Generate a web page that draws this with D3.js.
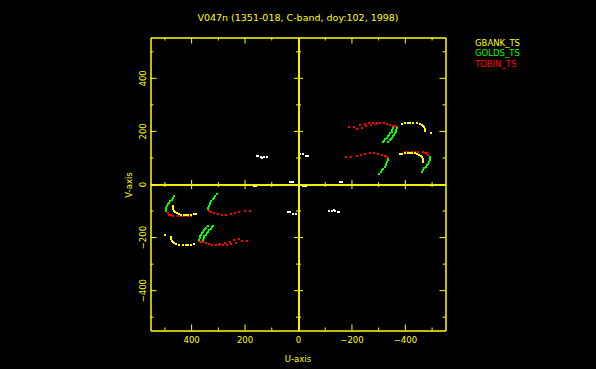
<!DOCTYPE html>
<html>
<head>
<meta charset="utf-8">
<script src="https://cdn.jsdelivr.net/npm/d3@7"></script>
<style>
    body { margin: 0; background: #000; }
    svg { display: block; }
    text { font-family: "DejaVu Sans", sans-serif; fill: #ffff00; }
    .axis path, .axis line { stroke: #ffff00; stroke-width: 1; }
    .axis text { font-size: 8.5px; fill: #ffff00; }
</style>
</head>
<body>
<div id="chart"></div>
<script>
// uv samples (u, v in kilo-lambda); each is also drawn at (-u, -v)
var gbankTop = [[-388,226],[-400,230],[-411,231],[-419,231],[-430,230],[-444,229],[-455,226],[-463,222],[-469,218],[-473,213],[-475,207],[-475,201],[-497,194]];
var gbankRight = [[-381,112],[-390,114],[-400,116],[-410,117],[-419,117],[-428,116],[-438,115],[-446,113],[-453,110],[-459,106],[-463,103],[-469,95],[-469,89],[-469,83]];

var goldsTopOuter = [[-369,210],[-368,204],[-366,197],[-363,191],[-360,185],[-357,180],[-353,175],[-349,170],[-344,166],[-338,158]];
var goldsTopInner = [[-356,210],[-353,203],[-350,197],[-346,191],[-341,185],[-337,179],[-332,173],[-326,168],[-321,163],[-317,158]];
var goldsMid = [[-335,95],[-335,89],[-334,83],[-331,76],[-328,70],[-324,63],[-319,57],[-315,51],[-310,45],[-304,38]];
var goldsRight = [[-494,103],[-494,97],[-494,91],[-491,83],[-488,76],[-483,70],[-478,64],[-473,59],[-469,54],[-463,47]];

var tdbinTop = [[-231,223],[-250,227],[-265,229],[-281,231],[-296,231],[-306,231],[-321,230],[-332,227],[-344,224],[-356,219],[-363,217],[-369,214]];
var tdbinTop2 = [[-191,214],[-211,215],[-221,207],[-240,212],[-256,217],[-275,221],[-291,225]];
var tdbinMid = [[-178,100],[-200,102],[-219,107],[-235,110],[-250,114],[-269,115],[-285,115],[-300,114],[-313,111],[-325,107],[-332,102]];
var tdbinRight = [[-400,120],[-412,121],[-425,122],[-438,122],[-450,122],[-469,120],[-476,118],[-482,116],[-488,110]];

var otherPts = [[152,107],[148,107],[140,102],[129,102],[117,102],[136,98],[-6,114],[-18,113],[-29,107],[-36,107],[31,6],[27,6],[20,6],[-156,6],[-164,8]];

var series = [
    { name: "GBANK_TS", color: "#ffff00", tracks: [gbankTop, gbankRight] },
    { name: "GOLDS_TS", color: "#00ff00", tracks: [goldsTopOuter, goldsTopInner, goldsMid, goldsRight] },
    { name: "TDBIN_TS", color: "#ff0000", tracks: [tdbinTop, tdbinTop2, tdbinMid, tdbinRight] }
];

var majorTicks = [-400, -200, 0, 200, 400];
var minorTicks = [-500, -300, -100, 100, 300, 500];

var width = 596, height = 369;
var margin = { top: 37.5, left: 150.5, right: 150.5, bottom: 38.5 };

var svg = d3.select("#chart")
    .append("svg")
    .attr("width", width)
    .attr("height", height);

svg.append("rect")
    .attr("width", width)
    .attr("height", height)
    .attr("fill", "#000");

var xScale = d3.scaleLinear()
    .domain([552, -552])
    .range([margin.left, width - margin.right]);

var yScale = d3.scaleLinear()
    .domain([552, -552])
    .range([margin.top, height - margin.bottom]);

/*
POINTS
*/
function drawPoints(pts, color) {
    var all = pts.concat(pts.map(function(d) { return [-d[0], -d[1]]; }));
    svg.append("g").selectAll("rect")
        .data(all)
        .enter()
        .append("rect")
        .attr("x", function(d) { return Math.round(xScale(d[0]) - 1); })
        .attr("y", function(d) { return Math.round(yScale(d[1]) - 1); })
        .attr("width", 2)
        .attr("height", 2)
        .attr("fill", color);
}

drawPoints(otherPts, "#ffffff");
series.slice().reverse().forEach(function(s) {
    s.tracks.forEach(function(t) { drawPoints(t, s.color); });
});

/*
BOX AXES
*/
var y0 = height - margin.bottom, x0 = margin.left;
var x1 = width - margin.right, yTop = margin.top;

svg.append("g").attr("class", "axis")
    .attr("transform", `translate(0,${y0})`)
    .call(d3.axisBottom(xScale).tickValues(majorTicks).tickSizeInner(-6).tickSizeOuter(0).tickPadding(6)
        .tickFormat(function(d) { return d === 0 ? "0" : d3.format("")(d).replace("-", "\u2212"); }));
svg.append("g").attr("class", "axis")
    .attr("transform", `translate(0,${y0})`)
    .call(d3.axisBottom(xScale).tickValues(minorTicks).tickSizeInner(-3).tickSizeOuter(0).tickFormat(""));

svg.append("g").attr("class", "axis")
    .attr("transform", `translate(0,${yTop})`)
    .call(d3.axisTop(xScale).tickValues(majorTicks).tickSizeInner(-6).tickSizeOuter(0).tickFormat(""));
svg.append("g").attr("class", "axis")
    .attr("transform", `translate(0,${yTop})`)
    .call(d3.axisTop(xScale).tickValues(minorTicks).tickSizeInner(-3).tickSizeOuter(0).tickFormat(""));

var leftAxis = svg.append("g").attr("class", "axis")
    .attr("transform", `translate(${x0},0)`)
    .call(d3.axisLeft(yScale).tickValues(majorTicks).tickSizeInner(-6).tickSizeOuter(0)
        .tickFormat(function(d) { return d3.format("")(d).replace("-", "\u2212"); }));
leftAxis.selectAll("text")
    .attr("transform", "rotate(-90)")
    .attr("x", 0)
    .attr("y", -5)
    .attr("dy", 0)
    .attr("text-anchor", "middle");
svg.append("g").attr("class", "axis")
    .attr("transform", `translate(${x0},0)`)
    .call(d3.axisLeft(yScale).tickValues(minorTicks).tickSizeInner(-3).tickSizeOuter(0).tickFormat(""));

svg.append("g").attr("class", "axis")
    .attr("transform", `translate(${x1},0)`)
    .call(d3.axisRight(yScale).tickValues(majorTicks).tickSizeInner(-6).tickSizeOuter(0).tickFormat(""));
svg.append("g").attr("class", "axis")
    .attr("transform", `translate(${x1},0)`)
    .call(d3.axisRight(yScale).tickValues(minorTicks).tickSizeInner(-3).tickSizeOuter(0).tickFormat(""));

/*
ZERO AXES (ticks on both sides)
*/
var zx = Math.round(xScale(0)) + 0.5;
var zy = Math.round(yScale(0)) + 0.5;
[d3.axisBottom, d3.axisTop].forEach(function(ax) {
    svg.append("g").attr("class", "axis")
        .attr("transform", `translate(0,${zy})`)
        .call(ax(xScale).tickValues(majorTicks.filter(function(d) { return d !== 0; })).tickSizeInner(4.5).tickSizeOuter(0).tickFormat(""));
    svg.append("g").attr("class", "axis")
        .attr("transform", `translate(0,${zy})`)
        .call(ax(xScale).tickValues(minorTicks).tickSizeInner(2.5).tickSizeOuter(0).tickFormat(""));
});
[d3.axisLeft, d3.axisRight].forEach(function(ax) {
    svg.append("g").attr("class", "axis")
        .attr("transform", `translate(${zx},0)`)
        .call(ax(yScale).tickValues(majorTicks.filter(function(d) { return d !== 0; })).tickSizeInner(4.5).tickSizeOuter(0).tickFormat(""));
    svg.append("g").attr("class", "axis")
        .attr("transform", `translate(${zx},0)`)
        .call(ax(yScale).tickValues(minorTicks).tickSizeInner(2.5).tickSizeOuter(0).tickFormat(""));
});

/*
TITLE AND LABELS
*/
svg.append("text")
    .attr("x", 298)
    .attr("y", 20.5)
    .attr("text-anchor", "middle")
    .style("font-size", "9.5px")
    .text("V047n (1351-018, C-band, doy:102, 1998)");

svg.append("text")
    .attr("x", 298)
    .attr("y", 362)
    .attr("text-anchor", "middle")
    .style("font-size", "8.5px")
    .text("U-axis");

svg.append("text")
    .attr("transform", "rotate(-90)")
    .attr("x", -185)
    .attr("y", 131.5)
    .attr("text-anchor", "middle")
    .style("font-size", "8.5px")
    .text("V-axis");

/*
LEGEND
*/
svg.selectAll(".legend")
    .data(series)
    .enter()
    .append("text")
    .attr("class", "legend")
    .attr("x", 475)
    .attr("y", function(d, i) { return 45.5 + i * 10.5; })
    .style("font-size", "8.5px")
    .style("fill", function(d) { return d.color; })
    .text(function(d) { return d.name; });
</script>
</body>
</html>
